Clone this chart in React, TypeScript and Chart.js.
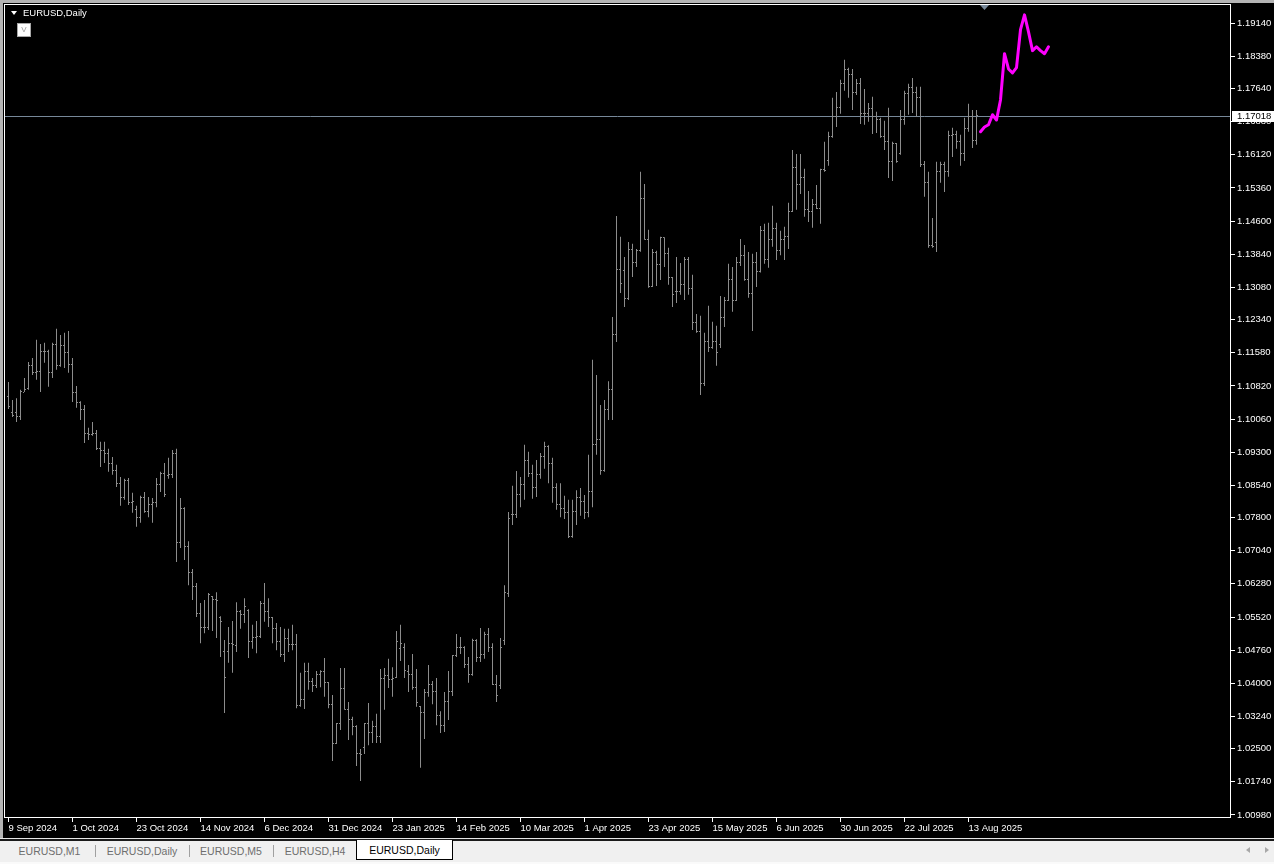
import React, { useEffect, useRef } from "react";
import { Chart, registerables } from "chart.js";

Chart.register(...registerables);

const chartTitle = "EURUSD,Daily";

const dateLabels = ["9 Sep 2024", "1 Oct 2024", "23 Oct 2024", "14 Nov 2024", "6 Dec 2024", "31 Dec 2024", "23 Jan 2025", "14 Feb 2025", "10 Mar 2025", "1 Apr 2025", "23 Apr 2025", "15 May 2025", "6 Jun 2025", "30 Jun 2025", "22 Jul 2025", "13 Aug 2025"];
const dateLabelBars = [0, 16, 32, 48, 64, 80, 96, 112, 128, 144, 160, 176, 192, 208, 224, 240];

const priceTicks = [1.1914, 1.1838, 1.1764, 1.1688, 1.1612, 1.1536, 1.146, 1.1384, 1.1308, 1.1234, 1.1158, 1.1082, 1.1006, 1.093, 1.0854, 1.078, 1.0704, 1.0628, 1.0552, 1.0476, 1.04, 1.0324, 1.025, 1.0174, 1.0098];

const openPrices = [
  1.1057, 1.1020, 1.1020, 1.1011, 1.1068, 1.1075, 1.1130, 1.1112, 1.1114, 1.1160,
  1.1160, 1.1112, 1.1176, 1.1130, 1.1174, 1.1158, 1.1132, 1.1066, 1.1045, 1.1027,
  1.0974, 1.0970, 1.0974, 1.0938, 1.0933, 1.0928, 1.0905, 1.0889, 1.0859, 1.0827,
  1.0864, 1.0814, 1.0798, 1.0781, 1.0825, 1.0793, 1.0811, 1.0814, 1.0855, 1.0882,
  1.0876, 1.0878, 1.0928, 1.0724, 1.0800, 1.0713, 1.0653, 1.0621, 1.0561, 1.0527,
  1.0529, 1.0598, 1.0593, 1.0550, 1.0472, 1.0472, 1.0492, 1.0486, 1.0564, 1.0557,
  1.0568, 1.0495, 1.0506, 1.0508, 1.0584, 1.0564, 1.0550, 1.0525, 1.0495, 1.0465,
  1.0502, 1.0488, 1.0490, 1.0350, 1.0362, 1.0428, 1.0403, 1.0394, 1.0419, 1.0428,
  1.0401, 1.0352, 1.0263, 1.0307, 1.0389, 1.0340, 1.0316, 1.0300, 1.0240, 1.0252,
  1.0307, 1.0286, 1.0300, 1.0277, 1.0412, 1.0417, 1.0408, 1.0414, 1.0479, 1.0483,
  1.0428, 1.0419, 1.0391, 1.0346, 1.0332, 1.0378, 1.0398, 1.0382, 1.0325, 1.0304,
  1.0359, 1.0380, 1.0463, 1.0483, 1.0481, 1.0444, 1.0421, 1.0499, 1.0458, 1.0465,
  1.0513, 1.0481, 1.0398, 1.0396, 1.0499, 1.0607, 1.0786, 1.0786, 1.0834, 1.0855,
  1.0910, 1.0882, 1.0850, 1.0880, 1.0919, 1.0944, 1.0903, 1.0850, 1.0811, 1.0800,
  1.0791, 1.0736, 1.0795, 1.0827, 1.0816, 1.0791, 1.0839, 1.0947, 1.0958, 1.0889,
  1.1027, 1.1073, 1.1199, 1.1350, 1.1346, 1.1282, 1.1396, 1.1364, 1.1392, 1.1511,
  1.1419, 1.1311, 1.1389, 1.1360, 1.1422, 1.1385, 1.1330, 1.1298, 1.1298, 1.1314,
  1.1371, 1.1305, 1.1227, 1.1206, 1.1087, 1.1183, 1.1171, 1.1183, 1.1176, 1.1240,
  1.1279, 1.1327, 1.1279, 1.1364, 1.1382, 1.1325, 1.1293, 1.1366, 1.1344, 1.1438,
  1.1371, 1.1417, 1.1444, 1.1392, 1.1417, 1.1424, 1.1483, 1.1582, 1.1545, 1.1559,
  1.1486, 1.1483, 1.1497, 1.1490, 1.1578, 1.1600, 1.1653, 1.1699, 1.1720, 1.1775,
  1.1807, 1.1796, 1.1754, 1.1775, 1.1706, 1.1706, 1.1718, 1.1699, 1.1692, 1.1655,
  1.1642, 1.1596, 1.1637, 1.1614, 1.1692, 1.1752, 1.1766, 1.1756, 1.1743, 1.1589,
  1.1548, 1.1405, 1.1412, 1.1573, 1.1591, 1.1573, 1.1656, 1.1658, 1.1642, 1.1614,
  1.1672, 1.1701, 1.1644,
];

const highPrices = [
  1.1091, 1.1050, 1.1054, 1.1073, 1.1100, 1.1137, 1.1146, 1.1188, 1.1178, 1.1181,
  1.1165, 1.1181, 1.1213, 1.1199, 1.1204, 1.1208, 1.1146, 1.1082, 1.1047, 1.1038,
  1.0986, 1.0999, 1.0981, 1.0954, 1.0954, 1.0938, 1.0919, 1.0901, 1.0873, 1.0869,
  1.0871, 1.0837, 1.0807, 1.0830, 1.0839, 1.0827, 1.0825, 1.0871, 1.0885, 1.0905,
  1.0917, 1.0935, 1.0938, 1.0825, 1.0804, 1.0726, 1.0662, 1.0630, 1.0584, 1.0591,
  1.0607, 1.0600, 1.0609, 1.0554, 1.0499, 1.0529, 1.0543, 1.0586, 1.0568, 1.0595,
  1.0570, 1.0534, 1.0543, 1.0589, 1.0630, 1.0595, 1.0552, 1.0538, 1.0529, 1.0525,
  1.0525, 1.0534, 1.0513, 1.0424, 1.0447, 1.0447, 1.0412, 1.0428, 1.0430, 1.0458,
  1.0403, 1.0373, 1.0309, 1.0435, 1.0435, 1.0357, 1.0323, 1.0304, 1.0249, 1.0309,
  1.0355, 1.0314, 1.0330, 1.0433, 1.0435, 1.0456, 1.0437, 1.0520, 1.0534, 1.0492,
  1.0442, 1.0467, 1.0433, 1.0348, 1.0387, 1.0442, 1.0405, 1.0412, 1.0336, 1.0380,
  1.0428, 1.0465, 1.0513, 1.0506, 1.0485, 1.0460, 1.0502, 1.0501, 1.0527, 1.0518,
  1.0527, 1.0492, 1.0419, 1.0504, 1.0625, 1.0793, 1.0853, 1.0887, 1.0873, 1.0947,
  1.0931, 1.0901, 1.0912, 1.0928, 1.0954, 1.0946, 1.0917, 1.0859, 1.0859, 1.0830,
  1.0821, 1.0821, 1.0843, 1.0848, 1.0832, 1.0924, 1.1142, 1.1107, 1.1038, 1.1050,
  1.1093, 1.1240, 1.1472, 1.1424, 1.1378, 1.1412, 1.1408, 1.1396, 1.1573, 1.1545,
  1.1440, 1.1396, 1.1392, 1.1424, 1.1423, 1.1399, 1.1332, 1.1378, 1.1364, 1.1378,
  1.1378, 1.1337, 1.1247, 1.1243, 1.1204, 1.1266, 1.1229, 1.1220, 1.1288, 1.1286,
  1.1362, 1.1355, 1.1378, 1.1419, 1.1405, 1.1389, 1.1385, 1.1389, 1.1449, 1.1454,
  1.1456, 1.1495, 1.1456, 1.1438, 1.1447, 1.1502, 1.1623, 1.1614, 1.1614, 1.1580,
  1.1529, 1.1511, 1.1543, 1.1580, 1.1642, 1.1665, 1.1743, 1.1756, 1.1784, 1.1830,
  1.1812, 1.1809, 1.1786, 1.1788, 1.1763, 1.1731, 1.1745, 1.1711, 1.1697, 1.1690,
  1.1720, 1.1642, 1.1639, 1.1715, 1.1759, 1.1775, 1.1788, 1.1768, 1.1768, 1.1598,
  1.1573, 1.1467, 1.1596, 1.1596, 1.1596, 1.1667, 1.1674, 1.1667, 1.1658, 1.1697,
  1.1729, 1.1715, 1.1715,
];

const lowPrices = [
  1.1029, 1.1011, 1.0999, 1.1004, 1.1068, 1.1073, 1.1107, 1.1096, 1.1068, 1.1135,
  1.1080, 1.1100, 1.1119, 1.1126, 1.1123, 1.1112, 1.1045, 1.1032, 1.1004, 1.0951,
  1.0958, 1.0968, 1.0935, 1.0896, 1.0905, 1.0885, 1.0878, 1.0850, 1.0807, 1.0821,
  1.0809, 1.0791, 1.0759, 1.0768, 1.0791, 1.0781, 1.0768, 1.0804, 1.0839, 1.0827,
  1.0869, 1.0871, 1.0678, 1.0710, 1.0683, 1.0625, 1.0591, 1.0552, 1.0492, 1.0515,
  1.0522, 1.0520, 1.0504, 1.0460, 1.0332, 1.0447, 1.0424, 1.0472, 1.0525, 1.0538,
  1.0458, 1.0479, 1.0469, 1.0504, 1.0541, 1.0529, 1.0492, 1.0476, 1.0460, 1.0449,
  1.0472, 1.0476, 1.0343, 1.0346, 1.0341, 1.0385, 1.0380, 1.0389, 1.0391, 1.0369,
  1.0343, 1.0222, 1.0261, 1.0293, 1.0339, 1.0270, 1.0281, 1.0210, 1.0176, 1.0238,
  1.0258, 1.0263, 1.0263, 1.0263, 1.0339, 1.0389, 1.0369, 1.0412, 1.0451, 1.0412,
  1.0380, 1.0385, 1.0346, 1.0206, 1.0272, 1.0369, 1.0352, 1.0304, 1.0286, 1.0288,
  1.0316, 1.0371, 1.0460, 1.0467, 1.0435, 1.0401, 1.0417, 1.0449, 1.0449, 1.0456,
  1.0472, 1.0396, 1.0357, 1.0387, 1.0488, 1.0598, 1.0763, 1.0779, 1.0804, 1.0821,
  1.0873, 1.0823, 1.0827, 1.0869, 1.0892, 1.0859, 1.0814, 1.0798, 1.0781, 1.0777,
  1.0733, 1.0734, 1.0763, 1.0784, 1.0777, 1.0781, 1.0804, 1.0924, 1.0878, 1.0885,
  1.1004, 1.1004, 1.1183, 1.1295, 1.1263, 1.1279, 1.1332, 1.1355, 1.1390, 1.1417,
  1.1307, 1.1309, 1.1311, 1.1325, 1.1355, 1.1314, 1.1263, 1.1272, 1.1291, 1.1279,
  1.1291, 1.1210, 1.1204, 1.1061, 1.1082, 1.1160, 1.1167, 1.1128, 1.1169, 1.1217,
  1.1277, 1.1252, 1.1277, 1.1357, 1.1323, 1.1284, 1.1208, 1.1309, 1.1342, 1.1362,
  1.1353, 1.1401, 1.1371, 1.1382, 1.1371, 1.1396, 1.1481, 1.1486, 1.1522, 1.1470,
  1.1458, 1.1445, 1.1488, 1.1454, 1.1573, 1.1587, 1.1651, 1.1676, 1.1706, 1.1759,
  1.1743, 1.1715, 1.1749, 1.1683, 1.1681, 1.1688, 1.1660, 1.1662, 1.1651, 1.1623,
  1.1559, 1.1552, 1.1594, 1.1612, 1.1681, 1.1704, 1.1708, 1.1699, 1.1584, 1.1516,
  1.1399, 1.1399, 1.1389, 1.1548, 1.1527, 1.1562, 1.1607, 1.1626, 1.1587, 1.1598,
  1.1665, 1.1628, 1.1635,
];

const closePrices = [
  1.1034, 1.1015, 1.1011, 1.1070, 1.1073, 1.1130, 1.1112, 1.1114, 1.1160, 1.1160,
  1.1112, 1.1176, 1.1130, 1.1174, 1.1158, 1.1132, 1.1066, 1.1045, 1.1027, 1.0974,
  1.0970, 1.0974, 1.0938, 1.0933, 1.0928, 1.0905, 1.0889, 1.0859, 1.0827, 1.0864,
  1.0814, 1.0816, 1.0781, 1.0825, 1.0793, 1.0811, 1.0814, 1.0855, 1.0882, 1.0832,
  1.0878, 1.0926, 1.0724, 1.0800, 1.0713, 1.0653, 1.0621, 1.0561, 1.0527, 1.0529,
  1.0603, 1.0593, 1.0591, 1.0541, 1.0414, 1.0492, 1.0488, 1.0564, 1.0557, 1.0577,
  1.0495, 1.0506, 1.0508, 1.0584, 1.0564, 1.0550, 1.0525, 1.0495, 1.0465, 1.0502,
  1.0488, 1.0490, 1.0350, 1.0362, 1.0428, 1.0403, 1.0394, 1.0419, 1.0428, 1.0401,
  1.0352, 1.0263, 1.0307, 1.0389, 1.0340, 1.0316, 1.0300, 1.0240, 1.0236, 1.0307,
  1.0286, 1.0300, 1.0277, 1.0412, 1.0417, 1.0408, 1.0412, 1.0495, 1.0492, 1.0430,
  1.0419, 1.0391, 1.0355, 1.0332, 1.0378, 1.0398, 1.0382, 1.0325, 1.0304, 1.0359,
  1.0380, 1.0463, 1.0483, 1.0481, 1.0444, 1.0421, 1.0499, 1.0458, 1.0465, 1.0513,
  1.0481, 1.0398, 1.0373, 1.0483, 1.0609, 1.0779, 1.0786, 1.0834, 1.0855, 1.0910,
  1.0882, 1.0850, 1.0880, 1.0919, 1.0944, 1.0903, 1.0850, 1.0811, 1.0800, 1.0791,
  1.0736, 1.0795, 1.0827, 1.0816, 1.0791, 1.0839, 1.0947, 1.0958, 1.0889, 1.1027,
  1.1073, 1.1199, 1.1350, 1.1318, 1.1282, 1.1396, 1.1364, 1.1392, 1.1511, 1.1419,
  1.1311, 1.1389, 1.1360, 1.1422, 1.1385, 1.1330, 1.1291, 1.1298, 1.1314, 1.1371,
  1.1305, 1.1227, 1.1206, 1.1087, 1.1183, 1.1171, 1.1183, 1.1158, 1.1240, 1.1279,
  1.1327, 1.1279, 1.1364, 1.1382, 1.1325, 1.1293, 1.1366, 1.1344, 1.1438, 1.1371,
  1.1417, 1.1444, 1.1392, 1.1417, 1.1424, 1.1483, 1.1584, 1.1545, 1.1559, 1.1486,
  1.1483, 1.1497, 1.1490, 1.1578, 1.1575, 1.1653, 1.1699, 1.1720, 1.1775, 1.1807,
  1.1796, 1.1754, 1.1775, 1.1706, 1.1706, 1.1718, 1.1699, 1.1692, 1.1655, 1.1642,
  1.1596, 1.1637, 1.1596, 1.1692, 1.1752, 1.1766, 1.1756, 1.1743, 1.1589, 1.1548,
  1.1405, 1.1401, 1.1573, 1.1591, 1.1573, 1.1656, 1.1658, 1.1642, 1.1614, 1.1672,
  1.1701, 1.1644, 1.1702,
];

const forecastFirstBar = 243;
const forecastPrices = [1.1665, 1.1676, 1.1681, 1.1704, 1.1692, 1.1738, 1.1844, 1.1809, 1.1800, 1.1812, 1.1899, 1.1933, 1.1894, 1.1851, 1.1860, 1.1851, 1.1844, 1.1860];

const currentPrice = 1.17018;
const chartShiftBar = 244;

const barAxisMin = -1.125;
const barAxisMax = 305.625;
const priceAxisMin = 1.0091;
const priceAxisMax = 1.1958;

const tabLabels = ["EURUSD,M1", "EURUSD,Daily", "EURUSD,M5", "EURUSD,H4", "EURUSD,Daily"];
const activeTabIndex = 4;

export default function App() {
  const canvasRef = useRef<HTMLCanvasElement | null>(null);

  useEffect(() => {
    const canvas = canvasRef.current;
    if (!canvas) return;
    const barColor = "#8c8c8c";
    const fontFamily = "'Liberation Sans', Arial, sans-serif";
    const axisFont = { family: fontFamily, size: 9.5 };

    const makeTick = (col: number) => {
      const c = document.createElement("canvas");
      c.width = 3;
      c.height = 1;
      const g = c.getContext("2d");
      if (g) {
        g.fillStyle = barColor;
        g.fillRect(col, 0, 1, 1);
      }
      return c;
    };
    const openTick = makeTick(0);
    const closeTick = makeTick(2);

    const bars = openPrices.map((_, i) => ({ x: i, y: [lowPrices[i], highPrices[i]] }));
    const opens = openPrices.map((v, i) => ({ x: i, y: v }));
    const closes = closePrices.map((v, i) => ({ x: i, y: v }));
    const forecast = forecastPrices.map((v, k) => ({ x: forecastFirstBar + k, y: v }));

    const terminalPlugin = {
      id: "terminalDecor",
      beforeDatasetsDraw(chart: any) {
        const { ctx, chartArea, scales } = chart;
        ctx.save();
        const y = Math.round(scales.y.getPixelForValue(currentPrice)) + 0.5;
        ctx.strokeStyle = "#778899";
        ctx.lineWidth = 1;
        ctx.beginPath();
        ctx.moveTo(chartArea.left, y);
        ctx.lineTo(chartArea.right, y);
        ctx.stroke();
        ctx.restore();
        ctx.imageSmoothingEnabled = false;
      },
      afterDraw(chart: any) {
        const { ctx, chartArea: a, scales } = chart;
        ctx.save();
        ctx.strokeStyle = "#ffffff";
        ctx.lineWidth = 1;
        ctx.strokeRect(a.left + 0.5, a.top + 0.5, a.right - a.left - 1, a.bottom - a.top - 1);
        const py = Math.round(scales.y.getPixelForValue(currentPrice));
        ctx.fillStyle = "#ffffff";
        ctx.fillRect(a.right + 1, py - 5, chart.width - a.right - 1, 11);
        ctx.fillStyle = "#000000";
        ctx.font = `9.5px ${fontFamily}`;
        ctx.textAlign = "left";
        ctx.textBaseline = "middle";
        ctx.fillText(currentPrice.toFixed(5), a.right + 6, py + 0.5);
        const sx = scales.x.getPixelForValue(chartShiftBar);
        ctx.fillStyle = "#778899";
        ctx.beginPath();
        ctx.moveTo(sx - 4.5, a.top + 1);
        ctx.lineTo(sx + 4.5, a.top + 1);
        ctx.lineTo(sx, a.top + 6);
        ctx.closePath();
        ctx.fill();
        ctx.restore();
      },
    };

    const chart = new Chart(canvas, {
      type: "bar",
      data: {
        datasets: [
          {
            type: "bar",
            data: bars as any,
            backgroundColor: barColor,
            borderWidth: 0,
            barThickness: 1,
            inflateAmount: 0,
            order: 3,
          } as any,
          {
            type: "line",
            data: opens,
            showLine: false,
            pointStyle: openTick,
            pointRadius: 1,
            pointHoverRadius: 1,
            order: 2,
          } as any,
          {
            type: "line",
            data: closes,
            showLine: false,
            pointStyle: closeTick,
            pointRadius: 1,
            pointHoverRadius: 1,
            order: 2,
          } as any,
          {
            type: "line",
            data: forecast,
            borderColor: "#ff00ff",
            borderWidth: 3,
            pointRadius: 0,
            tension: 0,
            borderJoinStyle: "round",
            borderCapStyle: "round",
            order: 1,
          } as any,
        ],
      },
      options: {
        responsive: false,
        animation: false,
        devicePixelRatio: 1,
        events: [],
        layout: { padding: { left: 4, top: 4, right: 0, bottom: 0 } },
        plugins: {
          legend: { display: false },
          tooltip: { enabled: false },
          title: { display: false },
        },
        scales: {
          x: {
            type: "linear",
            position: "bottom",
            min: barAxisMin,
            max: barAxisMax,
            offset: false,
            afterBuildTicks: (axis: any) => {
              axis.ticks = dateLabelBars.map((v) => ({ value: v }));
            },
            afterFit: (axis: any) => {
              axis.height = 20;
              axis.paddingLeft = 0;
              axis.paddingRight = 0;
            },
            ticks: {
              callback: (_v: any, i: number) => dateLabels[i],
              align: "start",
              autoSkip: false,
              maxRotation: 0,
              minRotation: 0,
              color: "#ffffff",
              font: axisFont,
              padding: 1,
            },
            grid: { drawOnChartArea: false, offset: false, drawTicks: true, tickLength: 4, color: "#ffffff", lineWidth: 1 },
            border: { display: false },
          } as any,
          y: {
            type: "linear",
            position: "right",
            min: priceAxisMin,
            max: priceAxisMax,
            beginAtZero: false,
            afterBuildTicks: (axis: any) => {
              axis.ticks = priceTicks.map((v) => ({ value: v }));
            },
            afterFit: (axis: any) => {
              axis.width = 43;
              axis.paddingTop = 0;
              axis.paddingBottom = 0;
            },
            ticks: {
              callback: (v: any) => Number(v).toFixed(5),
              autoSkip: false,
              color: "#ffffff",
              font: axisFont,
              padding: 2,
            },
            grid: { drawOnChartArea: false, drawTicks: true, tickLength: 4, color: "#ffffff", lineWidth: 1 },
            border: { display: false },
          } as any,
        },
      },
      plugins: [terminalPlugin],
    } as any);

    return () => {
      chart.destroy();
    };
  }, []);

  const tabWidths = [91, 94, 84, 84, 95];
  let acc = 4;
  const tabBoxes = tabLabels.map((label, i) => {
    const left = acc;
    acc += tabWidths[i];
    return { label, left, width: tabWidths[i], active: i === activeTabIndex };
  });

  const font = "'Liberation Sans', Arial, sans-serif";

  return (
    <div
      style={{
        position: "fixed",
        left: 0,
        top: 0,
        width: 1274,
        height: 864,
        background: "#000000",
        overflow: "hidden",
        fontFamily: font,
      }}
    >
      <canvas
        ref={canvasRef}
        width={1274}
        height={838}
        style={{ position: "absolute", left: 0, top: 0, width: 1274, height: 838, display: "block" }}
      />
      <div style={{ position: "absolute", left: 0, top: 0, width: 1274, height: 3, background: "#b4b4b4" }} />
      <div style={{ position: "absolute", left: 0, top: 0, width: 3, height: 838, background: "#b4b4b4" }} />

      <div
        style={{
          position: "absolute",
          left: 11,
          top: 11,
          width: 0,
          height: 0,
          borderLeft: "3px solid transparent",
          borderRight: "3px solid transparent",
          borderTop: "4px solid #ffffff",
        }}
      />
      <div
        style={{
          position: "absolute",
          left: 23,
          top: 7,
          fontSize: 9.5,
          lineHeight: "12px",
          color: "#ffffff",
          whiteSpace: "nowrap",
        }}
      >
        {chartTitle}
      </div>
      <div
        style={{
          position: "absolute",
          left: 17,
          top: 23,
          width: 12,
          height: 12,
          background: "#ffffff",
          border: "1px solid #a8a8a8",
          color: "#9a9a9a",
          fontSize: 8,
          lineHeight: "12px",
          textAlign: "center",
        }}
      >
        V
      </div>

      <div style={{ position: "absolute", left: 0, top: 838, width: 1274, height: 1, background: "#e6e6e6" }} />
      <div style={{ position: "absolute", left: 0, top: 839, width: 1274, height: 2, background: "#1a1a1a" }} />
      <div style={{ position: "absolute", left: 0, top: 841, width: 1274, height: 21, background: "#f0f0f0" }} />
      <div style={{ position: "absolute", left: 0, top: 862, width: 1274, height: 2, background: "#fafafa" }} />

      {tabBoxes.map((t, i) =>
        t.active ? (
          <div
            key={i}
            style={{
              position: "absolute",
              left: t.left - 1,
              top: 840,
              width: t.width,
              height: 19,
              background: "#ffffff",
              borderLeft: "1px solid #000",
              borderRight: "1px solid #000",
              borderBottom: "1px solid #000",
              color: "#000000",
              fontSize: 10.5,
              lineHeight: "20px",
              textAlign: "center",
              whiteSpace: "nowrap",
            }}
          >
            {t.label}
          </div>
        ) : (
          <div
            key={i}
            style={{
              position: "absolute",
              left: t.left,
              top: 841,
              width: t.width,
              height: 20,
              color: "#6e6e6e",
              fontSize: 10.5,
              lineHeight: "20px",
              textAlign: "center",
              whiteSpace: "nowrap",
            }}
          >
            {t.label}
          </div>
        )
      )}
      {tabBoxes.map((t, i) =>
        !t.active && i + 1 < tabBoxes.length && !tabBoxes[i + 1].active ? (
          <div
            key={"sep" + i}
            style={{ position: "absolute", left: t.left + t.width, top: 845, width: 1, height: 12, background: "#a0a0a0" }}
          />
        ) : null
      )}

      <div
        style={{
          position: "absolute",
          left: 1246,
          top: 847,
          width: 0,
          height: 0,
          borderTop: "3px solid transparent",
          borderBottom: "3px solid transparent",
          borderRight: "4px solid #a8a8a8",
        }}
      />
      <div
        style={{
          position: "absolute",
          left: 1265,
          top: 847,
          width: 0,
          height: 0,
          borderTop: "3px solid transparent",
          borderBottom: "3px solid transparent",
          borderLeft: "4px solid #a8a8a8",
        }}
      />
    </div>
  );
}
